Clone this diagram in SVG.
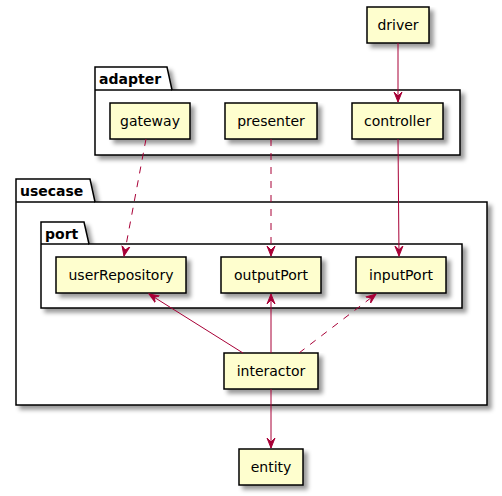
<svg xmlns="http://www.w3.org/2000/svg" width="502" height="496" viewBox="0 0 502 496">
<defs>
<filter id="sh" x="-10%" y="-10%" width="130%" height="140%">
<feGaussianBlur in="SourceAlpha" stdDeviation="2"/>
<feColorMatrix type="matrix" values="0 0 0 0 0  0 0 0 0 0  0 0 0 0 0  0 0 0 0.4 0"/>
<feOffset dx="4" dy="4" result="b"/>
<feMerge><feMergeNode in="b"/><feMergeNode in="SourceGraphic"/></feMerge>
</filter>
<marker id="ah" viewBox="0 0 12 12" refX="10" refY="5" markerWidth="12" markerHeight="12" markerUnits="userSpaceOnUse" orient="auto">
<path d="M0,1 L10,5 L0,9 L4,5 Z" fill="#A80036" stroke="#A80036" stroke-width="1"/>
</marker>
</defs>
<style>
.pkg{fill:#FFFFFF;stroke:#000000;stroke-width:1.5}
.pt{font-family:"DejaVu Sans",sans-serif;font-size:14px;font-weight:bold;fill:#000000}
.n rect{fill:#FEFECE;stroke:#000000;stroke-width:1.5}
.n text{font-family:"DejaVu Sans",sans-serif;font-size:14px;fill:#000000;text-anchor:middle}
.e{stroke:#A80036;stroke-width:1;fill:none;marker-end:url(#ah)}
.d{stroke-dasharray:7,7}
</style>

<g id="pkg-adapter">
<path class="pkg" filter="url(#sh)" d="M95,67 L167,67 L172,90 L460,90 L460,155 L95,155 Z"/>
<path class="pkg" d="M95,90 L172,90"/>
<text class="pt" x="99" y="84">adapter</text>
</g>
<g id="pkg-usecase">
<path class="pkg" filter="url(#sh)" d="M16,179 L90,179 L95,202 L487,202 L487,405 L16,405 Z"/>
<path class="pkg" d="M16,202 L95,202"/>
<text class="pt" x="20" y="196">usecase</text>
</g>
<g id="pkg-port">
<path class="pkg" filter="url(#sh)" d="M41,222 L84,222 L89,244 L462,244 L462,308 L41,308 Z"/>
<path class="pkg" d="M41,244 L89,244"/>
<text class="pt" x="45" y="239">port</text>
</g>

<g id="driver" class="n"><rect x="367" y="7" width="62" height="36" filter="url(#sh)"/><text x="398" y="30">driver</text></g>
<g id="gateway" class="n"><rect x="110" y="103" width="80" height="36" filter="url(#sh)"/><text x="150" y="126">gateway</text></g>
<g id="presenter" class="n"><rect x="225" y="103" width="92" height="36" filter="url(#sh)"/><text x="271" y="126">presenter</text></g>
<g id="controller" class="n"><rect x="352" y="103" width="91" height="36" filter="url(#sh)"/><text x="397.5" y="126">controller</text></g>
<g id="userRepository" class="n"><rect x="56" y="257" width="130" height="36" filter="url(#sh)"/><text x="121" y="280">userRepository</text></g>
<g id="outputPort" class="n"><rect x="221" y="257" width="100" height="36" filter="url(#sh)"/><text x="271" y="280">outputPort</text></g>
<g id="inputPort" class="n"><rect x="356" y="257" width="90" height="36" filter="url(#sh)"/><text x="401" y="280">inputPort</text></g>
<g id="interactor" class="n"><rect x="224" y="353" width="94" height="36" filter="url(#sh)"/><text x="271" y="376">interactor</text></g>
<g id="entity" class="n"><rect x="239" y="449" width="64" height="36" filter="url(#sh)"/><text x="271" y="472">entity</text></g>

<g id="connectors">
<path class="e" d="M398,43 L398,102"/>
<path class="e d" d="M146,139 L124,256"/>
<path class="e d" d="M271,139 L271,256"/>
<path class="e" d="M398,139 L399,256"/>
<path class="e" d="M243,353 L149,294"/>
<path class="e" d="M271,353 L271,294"/>
<path class="e d" d="M299,353 L376,294"/>
<path class="e" d="M271,389 L271,448"/>
</g>
</svg>
